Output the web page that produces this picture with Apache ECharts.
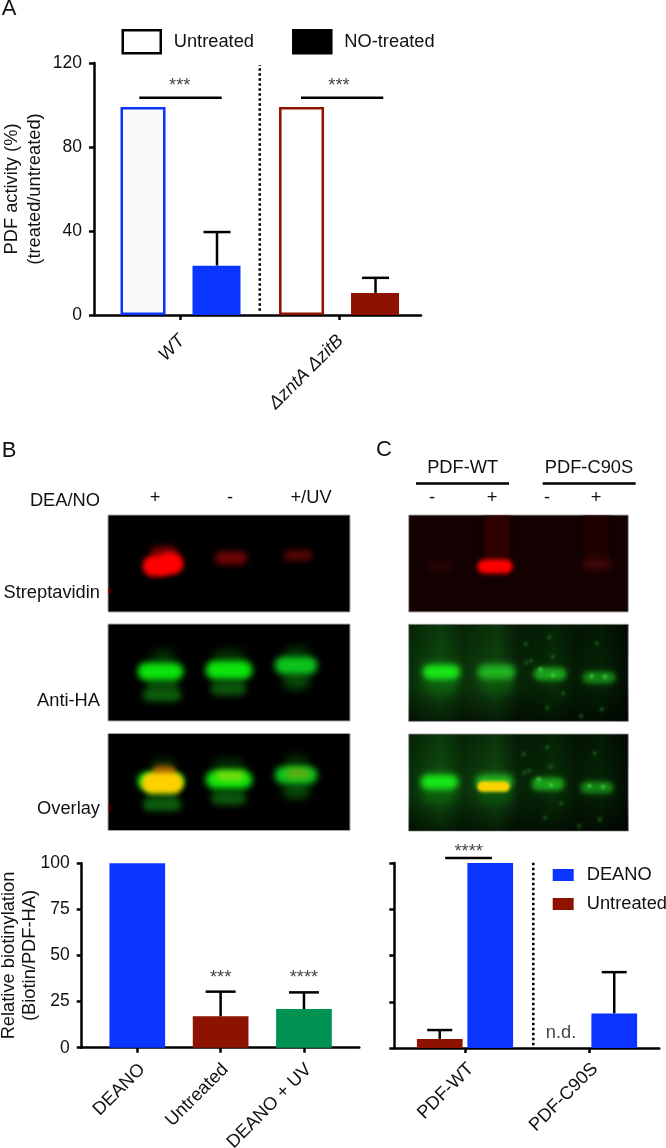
<!DOCTYPE html>
<html>
<head>
<meta charset="utf-8">
<title>PDF activity and biotinylation</title>
<script src="https://cdn.jsdelivr.net/npm/echarts@6/dist/echarts.min.js"></script>
<style>
  html, body { margin: 0; padding: 0; background: #fff; }
  #chart { width: 666px; height: 1148px; }
</style>
</head>
<body>
<div id="chart"></div>
<script>
// panel A
const strains = ['WT', 'ΔzntA ΔzitB']
const untreatedA = [99, 99]
const noTreatedA = [23.5, 10.5]
const noTreatedErrA = [39.5, 17.7]
const ticksA = [0, 40, 80, 120]

// panel B
const conditionsB = ['DEANO', 'Untreated', 'DEANO + UV']
const valuesB = [100, 17, 21]
const errorsB = [null, 30.4, 30]

// panel C
const constructs = ['PDF-WT', 'PDF-C90S']
const untreatedC = [4.9, null]
const deanoC = [100, 18.7]
const untreatedErrC = [9.7, null]
const deanoErrC = [null, 41]

const FONT = '"Liberation Sans", Arial, sans-serif'
const FS = 18.3
const INK = '#111'
const BLUE = '#0a34ff'
const RED = '#8e1200'
const GREEN = '#009250'

// ---- blot pictures, these are only drawn with graphic shapes ----
const gfx = []
const FAR = 3000

function text(str, x, y, opts) {
  gfx.push({
    type: 'text',
    silent: true,
    style: Object.assign({
      text: str, x, y, fill: INK,
      font: FS + 'px ' + FONT,
      align: 'center', verticalAlign: 'middle',
    }, opts),
  })
}

function box(x, y, w, h, fill, stroke) {
  gfx.push({
    type: 'rect',
    silent: true,
    shape: { x, y, width: w, height: h },
    style: { fill, stroke: stroke || null, lineWidth: stroke ? 1 : 0 },
  })
}

// a soft band: only the shadow of an offscreen pill lands on the gel
function band(x0, x1, y0, y1, color, blur) {
  const inset = blur * 0.1
  const h = Math.max(1, y1 - y0 - inset * 2)
  gfx.push({
    type: 'rect',
    silent: true,
    shape: { x: x0 + inset - FAR, y: y0 + inset, width: Math.max(1, x1 - x0 - inset * 2), height: h, r: h / 2 },
    style: { fill: '#000', shadowColor: color, shadowBlur: blur, shadowOffsetX: FAR },
  })
}

function hLine(x0, x1, y) {
  gfx.push({
    type: 'line',
    silent: true,
    shape: { x1: x0, y1: y, x2: x1, y2: y },
    style: { stroke: '#000', lineWidth: 2.5 },
  })
}

function fadeH(color) {
  return new echarts.graphic.LinearGradient(0, 0, 1, 0, [
    { offset: 0, color: 'rgba(0,0,0,0)' },
    { offset: 0.2, color },
    { offset: 0.8, color },
    { offset: 1, color: 'rgba(0,0,0,0)' },
  ])
}

const GEL_EDGE = '#a8a8a8'

function greenLanesB(dy) {
  band(150, 176, 648 + dy, 666 + dy, '#052c05', 9)
  band(146, 179, 680 + dy, 692 + dy, '#0a470a', 6)
  band(142, 182, 688 + dy, 702 + dy, '#0d5e0d', 6)
  band(137, 184, 662 + dy, 681 + dy, '#0ce40c', 6)
  band(212, 246, 648 + dy, 664 + dy, '#052c05', 9)
  band(210, 247, 681 + dy, 696 + dy, '#0c560c', 6)
  band(205, 253, 660 + dy, 680 + dy, '#0ce40c', 6)
  band(283, 310, 645 + dy, 660 + dy, '#052c05', 9)
  band(282, 311, 672 + dy, 690 + dy, '#094809', 8)
  band(274, 318, 656 + dy, 675 + dy, '#0cc41c', 6)
}

function drawGelsB() {
  box(108, 515, 242, 97, '#000', GEL_EDGE)
  band(150, 178, 546, 560, '#7a0000', 6)
  band(142, 172, 555, 577, '#ff0000', 5)
  band(158, 184, 552, 575, '#ff0000', 5)
  band(214, 248, 551, 565, '#700505', 6)
  band(283, 313, 550, 561, '#5c0505', 6)
  box(108, 588, 1.5, 6, '#c00000')

  box(108, 624, 242, 97, '#000', GEL_EDGE)
  greenLanesB(0)

  box(108, 733.5, 242, 97, '#000', GEL_EDGE)
  greenLanesB(109.6)
  band(152, 176, 765, 778, '#a05800', 5)
  band(141, 184, 772, 794, '#ffd000', 5)
  band(215, 245, 771, 781, '#80dc10', 6)
  band(285, 310, 768, 779, '#64ac10', 6)
  box(108, 805, 1.5, 6, '#c00000')
}

const greenBackdrop = () => new echarts.graphic.LinearGradient(0, 0, 1, 0, [
  { offset: 0, color: '#052c05' },
  { offset: 0.06, color: '#0a3a0a' },
  { offset: 0.15, color: '#0e4c0e' },
  { offset: 0.25, color: '#083008' },
  { offset: 0.33, color: '#0c3a0c' },
  { offset: 0.4, color: '#0e460e' },
  { offset: 0.5, color: '#062206' },
  { offset: 0.6, color: '#052505' },
  { offset: 0.66, color: '#062e06' },
  { offset: 0.76, color: '#041a04' },
  { offset: 0.87, color: '#042204' },
  { offset: 1, color: '#020c02' },
])

const darkenEnds = () => new echarts.graphic.LinearGradient(0, 0, 0, 1, [
  { offset: 0, color: 'rgba(0,0,0,0.25)' },
  { offset: 0.45, color: 'rgba(0,0,0,0)' },
  { offset: 0.62, color: 'rgba(0,0,0,0)' },
  { offset: 1, color: 'rgba(0,0,0,0.6)' },
])

const specks = [
  [525.7, 644], [549.3, 637.3], [552.7, 656.7], [526, 662.7], [531, 660.7],
  [547.3, 707.7], [596.7, 643.3], [601.7, 709.3], [581, 716], [563.3, 693.3],
]
const brightSpecks = [[540.7, 669.3], [591.7, 676], [605, 676.7], [553, 675]]

function greenGelC(y, dx, dy) {
  box(408.7, y, 219.6, 97, greenBackdrop(), GEL_EDGE)
  box(408.7, y, 219.6, 97, darkenEnds())
  band(424 + dx, 458 + dx, 677 + dy, 694 + dy, '#0d5c0d', 8)
  band(480 + dx, 514 + dx, 677 + dy, 694 + dy, '#0c500c', 8)
  specks.forEach((s) => band(s[0] - 2 + dx, s[0] + 2 + dx, s[1] - 2 + dy, s[1] + 2 + dy, '#1f761f', 3))
  band(422 + dx, 461 + dx, 664 + dy, 680 + dy, '#18e818', 6)
  band(477 + dx, 516 + dx, 664 + dy, 680 + dy, '#20b420', 6)
  band(533 + dx, 567 + dx, 667 + dy, 681 + dy, '#1aa01a', 5)
  band(582 + dx, 616 + dx, 671 + dy, 684 + dy, '#148214', 5)
  brightSpecks.forEach((s) => band(s[0] - 2 + dx, s[0] + 2 + dx, s[1] - 2 + dy, s[1] + 2 + dy, '#50f050', 3))
}

function drawGelsC() {
  box(408.7, 515, 219.6, 97, '#130000', GEL_EDGE)
  box(479, 515.5, 36, 46, fadeH('#2e0000'))
  box(579, 515.5, 36, 44, fadeH('#1f0000'))
  band(427, 453, 561, 572, '#260505', 6)
  band(582, 612, 558, 570, '#400606', 6)
  band(477, 513, 559, 574, '#ff0000', 4)

  greenGelC(624.3, 0, 0)
  greenGelC(734, -2, 110)
  band(477, 510, 781, 792, '#fad400', 3)
}

drawGelsB()
drawGelsC()

// ---- panel letters and blot captions ----
text('A', 9, 9, { font: '22px ' + FONT })
text('B', 9, 451, { font: '22px ' + FONT })
text('C', 384, 450, { font: '22px ' + FONT })

text('DEA/NO', 100, 501, { align: 'right' })
text('+', 155, 498)
text('-', 230, 498)
text('+/UV', 311, 498)
text('Streptavidin', 100, 593, { align: 'right' })
text('Anti-HA', 100, 701, { align: 'right' })
text('Overlay', 100, 809, { align: 'right' })

text(constructs[0], 462.7, 468)
text(constructs[1], 589, 468)
hLine(416, 509, 483.5)
hLine(542.7, 635.7, 483.5)
text('-', 432, 498)
text('+', 492, 498)
text('-', 547, 498)
text('+', 596, 498)

// ---- series helpers ----
function errorSeries(index, xs, highs, lows, offset, cap) {
  const rows = []
  xs.forEach((x, i) => { if (highs[i] != null) rows.push([x, lows[i], highs[i]]) })
  return {
    type: 'custom',
    xAxisIndex: index,
    yAxisIndex: index,
    silent: true,
    data: rows,
    renderItem(params, api) {
      const lo = api.coord([api.value(0), api.value(1)])
      const hi = api.coord([api.value(0), api.value(2)])
      const x = lo[0] + offset
      const style = { stroke: '#000', lineWidth: 2.5 }
      return {
        type: 'group',
        children: [
          { type: 'line', shape: { x1: x, y1: lo[1], x2: x, y2: hi[1] }, style },
          { type: 'line', shape: { x1: x - cap / 2, y1: hi[1], x2: x + cap / 2, y2: hi[1] }, style },
        ],
      }
    },
  }
}

// straight segments given in axis values, may leave the plot (significance bars)
function segmentSeries(index, rows, dash) {
  return {
    type: 'custom',
    xAxisIndex: index,
    yAxisIndex: index,
    silent: true,
    data: rows,
    renderItem(params, api) {
      const a = api.coord([api.value(0), api.value(1)])
      const b = api.coord([api.value(2), api.value(3)])
      return {
        type: 'line',
        shape: { x1: a[0], y1: a[1], x2: b[0], y2: b[1] },
        style: { stroke: '#000', lineWidth: 2.5, lineDash: dash || null },
      }
    },
  }
}

function noteSeries(index, str, points) {
  return {
    type: 'scatter',
    xAxisIndex: index,
    yAxisIndex: index,
    silent: true,
    clip: false,
    symbolSize: 0,
    data: points,
    label: { show: true, position: 'inside', formatter: str, fontFamily: FONT, fontSize: FS, color: INK },
  }
}

// labelShift nudges the slanted labels along the axis, the ticks stay on the groups
function xAxis(index, min, max, names, italic, margin, labelShift) {
  const at = names.map((n, i) => i + 1)
  return {
    type: 'value',
    gridIndex: index,
    min,
    max,
    splitLine: { show: false },
    axisLine: { onZero: false, lineStyle: { color: '#000', width: 2.5 } },
    axisTick: { customValues: at, length: 5, lineStyle: { color: '#000', width: 2.5 } },
    axisLabel: {
      customValues: at.map((v) => v + labelShift),
      formatter: (v) => names[Math.round(v) - 1],
      rotate: 45,
      margin,
      fontFamily: FONT,
      fontSize: FS,
      fontStyle: italic ? 'italic' : 'normal',
      color: INK,
    },
  }
}

function yAxis(index, max, interval, name, gap, lineHeight, showLabels) {
  return {
    type: 'value',
    gridIndex: index,
    min: 0,
    max,
    interval,
    name,
    nameLocation: 'middle',
    nameGap: gap,
    nameMoveOverlap: false,
    nameTextStyle: { fontFamily: FONT, fontSize: FS, lineHeight, color: INK },
    splitLine: { show: false },
    axisLine: { show: true, lineStyle: { color: '#000', width: 2.5 } },
    axisTick: { show: true, length: 5, lineStyle: { color: '#000', width: 2.5 } },
    axisLabel: { show: showLabels, margin: 12, padding: [3, 0, 0, 0], fontFamily: FONT, fontSize: 17.5, color: INK },
  }
}

const xsA = strains.map((s, i) => i + 1)
const xsB = conditionsB.map((s, i) => i + 1)
const xsC = constructs.map((s, i) => i + 1)
const pair = (xs, ys) => xs.map((x, i) => [x, ys[i]])

const option = {
  animation: false,
  backgroundColor: '#fff',
  textStyle: { fontFamily: FONT },
  graphic: { elements: gfx },
  grid: [
    { left: 94, top: 63, width: 327, height: 252, outerBoundsMode: 'none' },
    { left: 81.7, top: 863.3, width: 277.6, height: 184.4, outerBoundsMode: 'none' },
    { left: 394.3, top: 863, width: 265, height: 185, outerBoundsMode: 'none' },
  ],
  xAxis: [
    xAxis(0, 0.4543, 2.517, strains, true, 23, 0.01),
    xAxis(1, 0.333, 3.664, conditionsB, false, 19, 0.058),
    xAxis(2, 0.43, 2.567, constructs, false, 18, 0.048),
  ],
  yAxis: [
    yAxis(0, ticksA[ticksA.length - 1], ticksA[1], 'PDF activity (%)\n(treated/untreated)', 48, 23, true),
    yAxis(1, 100, 25, 'Relative biotinylation\n(Biotin/PDF-HA)', 41, 21, true),
    yAxis(2, 100, 25, '', 0, 21, false),
  ],
  legend: [
    {
      left: 121.5,
      top: 29,
      padding: 0,
      icon: 'rect',
      itemWidth: 38,
      itemHeight: 23,
      itemGap: 38,
      selectedMode: false,
      textStyle: { fontFamily: FONT, fontSize: FS, color: INK, padding: [0, 0, 0, 8] },
      data: [
        { name: 'Untreated', itemStyle: { color: '#fff', borderColor: '#000', borderWidth: 2.5 } },
        { name: 'NO-treated', itemStyle: { color: '#000', borderColor: '#000', borderWidth: 2.5 } },
      ],
    },
    {
      left: 552.7,
      top: 866,
      padding: 0,
      orient: 'vertical',
      icon: 'rect',
      itemWidth: 21,
      itemHeight: 12,
      itemGap: 11,
      selectedMode: false,
      textStyle: { fontFamily: FONT, fontSize: FS, color: INK, padding: [0, 0, 0, 8] },
      data: [
        { name: 'DEANO', itemStyle: { color: BLUE, borderWidth: 0 } },
        { name: 'Untreated ', itemStyle: { color: RED, borderWidth: 0 } },
      ],
    },
  ],
  series: [
    // panel A
    {
      name: 'Untreated',
      type: 'bar',
      xAxisIndex: 0,
      yAxisIndex: 0,
      barWidth: 45,
      barGap: '60%',
      data: xsA.map((x, i) => ({
        value: [x, untreatedA[i]],
        itemStyle: { color: i === 0 ? '#fafafa' : '#fff', borderColor: i === 0 ? BLUE : RED, borderWidth: 2.5 },
      })),
    },
    {
      name: 'NO-treated',
      type: 'bar',
      xAxisIndex: 0,
      yAxisIndex: 0,
      barWidth: 48,
      data: xsA.map((x, i) => ({
        value: [x, noTreatedA[i]],
        itemStyle: { color: i === 0 ? BLUE : RED },
      })),
    },
    errorSeries(0, xsA, noTreatedErrA, noTreatedA, 36.5, 27),
    segmentSeries(0, [[0.74, 103.5, 1.26, 103.5], [1.76, 103.5, 2.279, 103.5]]),
    segmentSeries(0, [[1.5, 2, 1.5, 119]], [2.5, 2.5]),
    noteSeries(0, '***', [[0.995, 109], [2.0, 109]]),

    // panel B
    {
      name: 'Relative biotinylation',
      type: 'bar',
      xAxisIndex: 1,
      yAxisIndex: 1,
      barWidth: 55.7,
      data: xsB.map((x, i) => ({
        value: [x, valuesB[i]],
        itemStyle: { color: [BLUE, RED, GREEN][i] },
      })),
    },
    errorSeries(1, xsB, errorsB, valuesB, 0, 30),
    noteSeries(1, '***', [[2, 37.7]]),
    noteSeries(1, '****', [[3, 37.7]]),

    // panel C
    {
      name: 'Untreated ',
      type: 'bar',
      xAxisIndex: 2,
      yAxisIndex: 2,
      barWidth: 45.7,
      barGap: '10.5%',
      data: pair(xsC, untreatedC),
      itemStyle: { color: RED },
    },
    {
      name: 'DEANO',
      type: 'bar',
      xAxisIndex: 2,
      yAxisIndex: 2,
      barWidth: 45.7,
      data: pair(xsC, deanoC),
      itemStyle: { color: BLUE },
    },
    errorSeries(2, xsC, untreatedErrC, untreatedC, -25.25, 25),
    errorSeries(2, xsC, deanoErrC, deanoC, 25.25, 25),
    segmentSeries(2, [[0.84, 102.7, 1.217, 102.7]]),
    segmentSeries(2, [[1.551, 1.5, 1.551, 101]], [2.5, 2.5]),
    noteSeries(2, '****', [[1.03, 106]]),
    noteSeries(2, 'n.d.', [[1.774, 8]]),
  ],
}

const chart = echarts.init(document.getElementById('chart'))
chart.setOption(option)
</script>
</body>
</html>
